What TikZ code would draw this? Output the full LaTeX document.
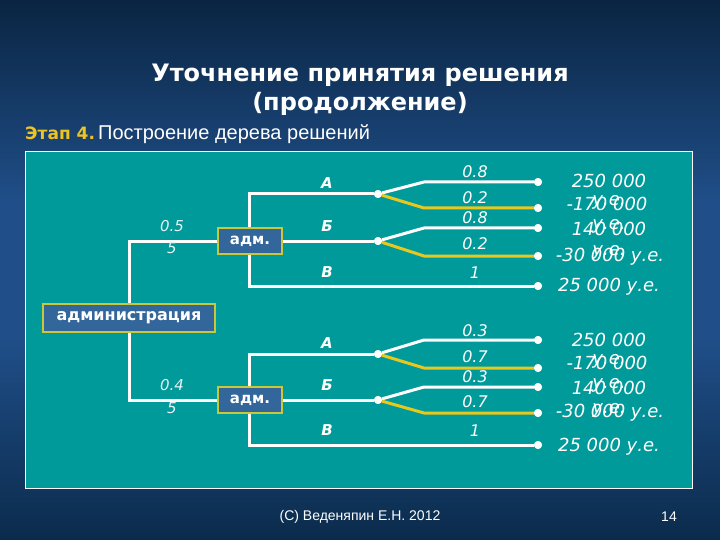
\documentclass[tikz,border=0pt]{standalone}
\usepackage{fontspec}
\setmainfont{DejaVu Sans}
\newfontfamily\narrowf{Liberation Sans}
\definecolor{bgtop}{HTML}{0A2542}
\definecolor{bgmid}{HTML}{1F4E88}
\definecolor{bgbot}{HTML}{0B2B4C}
\definecolor{teal}{HTML}{009A9A}
\definecolor{boxfill}{HTML}{33669A}
\definecolor{boxedge}{HTML}{C8C83A}
\definecolor{gold}{HTML}{F0C420}
\definecolor{ylw}{HTML}{E6C81E}
\tikzset{
  wire/.style={draw=white,line width=3pt},
  ywire/.style={draw=ylw,line width=3pt},
  dot/.style={circle,fill=white,inner sep=0pt,minimum size=8pt},
  admbox/.style={draw=boxedge,line width=2pt,fill=boxfill,text=white,font=\bfseries\fontsize{15}{17}\selectfont,inner sep=0pt,minimum width=64pt,minimum height=26pt},
  rootbox/.style={admbox,minimum width=172pt,minimum height=28pt,font=\bfseries\fontsize{16}{18}\selectfont},
  prob/.style={text=white,font=\itshape\fontsize{16}{18}\selectfont,inner sep=0pt},
  pay/.style={text=white,font=\itshape\fontsize{18}{20}\selectfont,inner sep=0pt},
  alt/.style={text=white,font=\bfseries\itshape\fontsize{15}{17}\selectfont,inner sep=0pt},
  pl/.style={text=white!90!teal,font=\itshape\fontsize{15}{17}\selectfont,inner sep=0pt}
}
\begin{document}
\begin{tikzpicture}[x=1pt,y=-1pt]
\useasboundingbox (0,0) rectangle (720,540);
\shade[top color=bgtop,bottom color=bgmid] (0,0) rectangle (720,200);
\fill[bgmid] (0,199) rectangle (720,341);
\shade[top color=bgmid,bottom color=bgbot] (0,340) rectangle (720,540);
% title
\node[text=white,font=\bfseries\fontsize{24}{29}\selectfont,align=center] (title) at (360,90) {Уточнение принятия решения\\(продолжение)};
\node[anchor=west,inner sep=0pt] (stage) at (25,134) {\textcolor{gold}{\bfseries\fontsize{17}{20}\selectfont Этап 4.}\ \textcolor{white}{\narrowf\fontsize{20}{22}\selectfont Построение дерева решений}};
% panel
\draw[white,line width=1pt,fill=teal] (25,152) rectangle (692,488);
% nodes
\node[rootbox] (root) at (129,318) {администрация};
\node[admbox] (adm1) at (250,241) {адм.};
\node[admbox] (adm2) at (250,400) {адм.};
\node[dot] (c1) at (378,194) {};
\node[dot] (c2) at (378,241) {};
\node[dot] (c3) at (378,354) {};
\node[dot] (c4) at (378,400) {};
\node[dot] (e1) at (538,182) {};
\node[dot] (e2) at (538,208) {};
\node[dot] (e3) at (538,228) {};
\node[dot] (e4) at (538,256) {};
\node[dot] (e5) at (538,286) {};
\node[dot] (e6) at (538,340) {};
\node[dot] (e7) at (538,368) {};
\node[dot] (e8) at (538,387) {};
\node[dot] (e9) at (538,413) {};
\node[dot] (e10) at (538,445) {};
% root connections
\draw[wire] (adm1.west) -| (root.north);
\draw[wire] (adm2.west) -| (root.south);
% upper subtree
\draw[wire] ([xshift=-1pt]adm1.north) |- (c1);
\draw[wire] (adm1.east) -- (c2);
\draw[wire] ([xshift=-1pt]adm1.south) |- (e5);
\draw[wire] (c1) -- (424,182) -- (e1);
\draw[ywire] (c1) -- (424,208) -- (e2);
\draw[wire] (c2) -- (424,228) -- (e3);
\draw[ywire] (c2) -- (424,256) -- (e4);
% lower subtree
\draw[wire] ([xshift=-1pt]adm2.north) |- (c3);
\draw[wire] (adm2.east) -- (c4);
\draw[wire] ([xshift=-1pt]adm2.south) |- (e10);
\draw[wire] (c3) -- (424,340) -- (e6);
\draw[ywire] (c3) -- (424,368) -- (e7);
\draw[wire] (c4) -- (424,387) -- (e8);
\draw[ywire] (c4) -- (424,413) -- (e9);
% dots and boxes on top
\foreach \n in {c1,c2,c3,c4,e1,e2,e3,e4,e5,e6,e7,e8,e9,e10}{\fill[white] (\n) circle (4pt);}
\node[rootbox] at (root) {администрация};
\node[admbox] at (adm1) {адм.};
\node[admbox] at (adm2) {адм.};
% root probabilities
\node[pl] (p1a) at (172,226) {0.5};
\node[pl] (p1b) at (172,248) {5};
\node[pl] (p2a) at (172,385) {0.4};
\node[pl] (p2b) at (172,408) {5};
% alternatives
\node[alt] (a1) at (327,183) {А};
\node[alt] (b1) at (327,226) {Б};
\node[alt] (v1) at (327,272) {В};
\node[alt] (a2) at (327,343) {А};
\node[alt] (b2) at (327,385) {Б};
\node[alt] (v2) at (327,430) {В};
% branch probabilities
\node[prob] at (475,172) {0.8};
\node[prob] at (475,198) {0.2};
\node[prob] at (475,218) {0.8};
\node[prob] at (475,244) {0.2};
\node[prob] at (475,273) {1};
\node[prob] at (475,331) {0.3};
\node[prob] at (475,357) {0.7};
\node[prob] at (475,377) {0.3};
\node[prob] at (475,402) {0.7};
\node[prob] at (475,431) {1};
% payoffs (wrapped "у.е." overprinting the next row, as in the slide)
\node[pay] at (609,181) {250 000};
\node[pay] at (609,202) {у.е.};
\node[pay] at (607,204) {-170 000};
\node[pay] at (609,226) {у.е.};
\node[pay] at (609,229) {140 000};
\node[pay] at (609,252) {у.е.};
\node[pay] at (610,257) {-30 000 у.е.};
\node[pay] at (609,287) {25 000 у.е.};
\node[pay] at (609,340) {250 000};
\node[pay] at (609,361) {у.е.};
\node[pay] at (607,363) {-170 000};
\node[pay] at (609,385) {у.е.};
\node[pay] at (609,388) {140 000};
\node[pay] at (609,410) {у.е.};
\node[pay] at (610,413) {-30 000 у.е.};
\node[pay] at (609,447) {25 000 у.е.};
% footer
\node[text=white,font=\narrowf\fontsize{14}{16}\selectfont] (foot) at (360,517) {(С) Веденяпин Е.Н. 2012};
\node[text=white,font=\narrowf\fontsize{14}{16}\selectfont] (pg) at (669,517) {14};
\end{tikzpicture}
\end{document}
